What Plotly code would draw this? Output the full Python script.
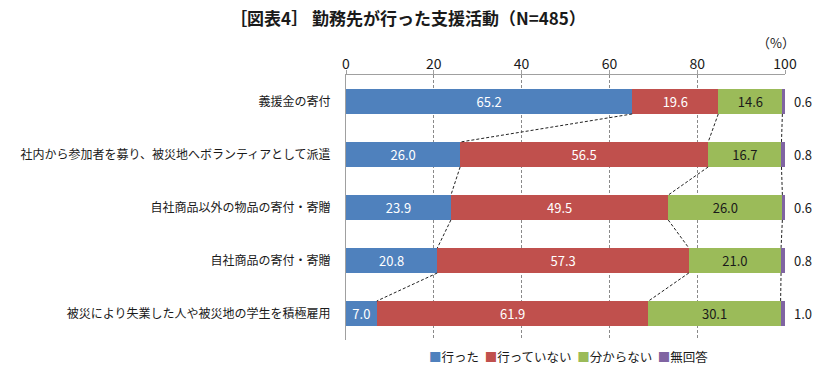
import plotly.graph_objects as go

categories = [
    "義援金の寄付",
    "社内から参加者を募り、被災地へボランティアとして派遣",
    "自社商品以外の物品の寄付・寄贈",
    "自社商品の寄付・寄贈",
    "被災により失業した人や被災地の学生を積極雇用",
]
series_names = ["行った", "行っていない", "分からない", "無回答"]
did = [65.2, 26.0, 23.9, 20.8, 7.0]
did_not = [19.6, 56.5, 49.5, 57.3, 61.9]
unknown = [14.6, 16.7, 26.0, 21.0, 30.1]
no_answer = [0.6, 0.8, 0.6, 0.8, 1.0]
x_ticks = [0, 20, 40, 60, 80, 100]

colors = ["#4F81BD", "#C0504D", "#9BBB59", "#8064A2"]
text_colors = ["white", "white", "#1a1a1a", "#1a1a1a"]
FONT = "Noto Sans CJK JP"
BAR_W = 0.47

# The page body has an 8px margin, so the figure is sized to fit inside it.
W, H, OFF = 810, 364, 8
PL, PR, PT, PB = 346 - OFF, 785 - OFF, 75 - OFF, 340 - OFF  # plot box in figure px
PH = PB - PT

series = [did, did_not, unknown, no_answer]
ypos = list(range(len(categories)))

fig = go.Figure()
for name, vals, col, tc in zip(series_names, series, colors, text_colors):
    show_text = name != "無回答"
    fig.add_trace(go.Bar(
        y=ypos, x=vals, orientation="h", name=name,
        marker=dict(color=col, line=dict(width=0)),
        width=BAR_W,
        text=[f"{v:.1f}" for v in vals] if show_text else None,
        textposition="inside" if show_text else "none",
        insidetextanchor="middle",
        textangle=0,
        constraintext="none",
        insidetextfont=dict(color=tc, size=13, family=FONT),
        hoverinfo="x+name",
        showlegend=False,
    ))

# purple values outside on the right
for i, v in enumerate(no_answer):
    fig.add_annotation(x=100, y=i, xref="x", yref="y", text=f"{v:.1f}",
                       showarrow=False, xanchor="center", xshift=18,
                       font=dict(size=13, family=FONT, color="#1a1a1a"))

# dashed connector lines between segment boundaries
cums = []
for i in range(len(categories)):
    c = 0
    row = []
    for s in series[:-1]:
        c += s[i]
        row.append(c)
    cums.append(row)
for i in range(len(categories) - 1):
    for k in range(3):
        fig.add_shape(type="line", xref="x", yref="y",
                      x0=cums[i][k], y0=i + BAR_W / 2,
                      x1=cums[i + 1][k], y1=i + 1 - BAR_W / 2,
                      line=dict(color="#222222", width=1, dash="3px,2px"))

# (%) unit label
fig.add_annotation(xref="paper", yref="paper", x=(776 - 346) / (785 - 346), y=1 + (75 - 42) / PH,
                   text="（%）", showarrow=False, xanchor="center", yanchor="middle",
                   font=dict(size=13, family=FONT, color="#1a1a1a"))

# legend built as text with coloured square glyphs
legend_text = "&nbsp;&nbsp;".join(
    f"<span style='color:{c}'>■</span>{n}" for n, c in zip(series_names, colors)
)
fig.add_annotation(xref="paper", yref="paper", x=(568 - 346) / (785 - 346), y=-(356 - 340) / PH,
                   text=legend_text, showarrow=False, xanchor="center", yanchor="middle",
                   font=dict(size=12.5, family=FONT, color="#1a1a1a"))

fig.update_layout(
    width=W, height=H,
    margin=dict(l=PL, r=W - PR, t=PT, b=H - PB, pad=0, autoexpand=False),
    paper_bgcolor="white", plot_bgcolor="white",
    barmode="stack",
    bargap=0.5,
    font=dict(family=FONT, size=13, color="#1a1a1a"),
    title=dict(text="<b>［図表4］ 勤務先が行った支援活動（N=485）</b>",
               xref="container", yref="container", x=(408 - OFF) / W, y=1 - 5 / H,
               xanchor="center", yanchor="top", pad=dict(t=0, b=0, l=0, r=0),
               font=dict(size=17, family=FONT, color="#1a1a1a")),
    showlegend=False,
    xaxis=dict(side="top", range=[0, 100], tickvals=x_ticks, ticktext=[str(t) for t in x_ticks],
               showgrid=True, gridcolor="#8a8a8a", griddash="3px,2px", gridwidth=1,
               showline=True, linecolor="#a0a0a0", linewidth=1,
               ticks="outside", ticklen=4, tickcolor="#a0a0a0",
               ticklabelstandoff=-5,
               tickfont=dict(size=14, family=FONT, color="#1a1a1a"),
               zeroline=False, fixedrange=True, automargin=False),
    yaxis=dict(range=[4.5, -0.5], tickvals=ypos, ticktext=categories,
               showgrid=False, zeroline=False,
               showline=True, linecolor="#a0a0a0", linewidth=1,
               ticks="", ticklabelstandoff=12,
               tickfont=dict(size=12, family=FONT, color="#1a1a1a"), fixedrange=True,
               automargin=False),
)

fig.write_html("out.html")
